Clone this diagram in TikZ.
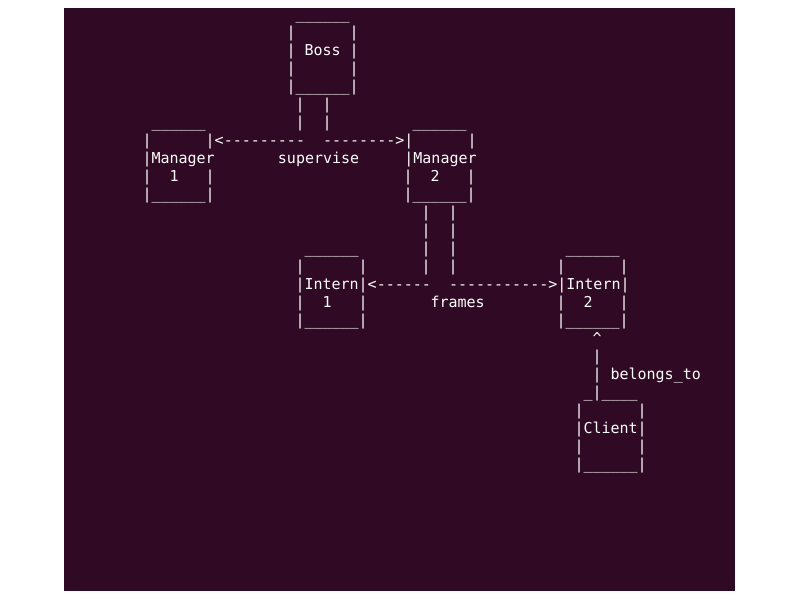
\documentclass[tikz,border=0pt]{standalone}
\usepackage{fontspec}
\setmonofont{DejaVu Sans Mono}
\usetikzlibrary{positioning}
\definecolor{termbg}{HTML}{300A24}
\definecolor{termfg}{HTML}{FFFFFF}

\begin{document}
\begin{tikzpicture}[x=9pt, y=-18pt,
  txt/.style={anchor=base west, inner sep=0pt, outer sep=0pt, xshift=-4.5pt, yshift=-6pt,
    text=termfg, font=\ttfamily\fontsize{15}{18}\selectfont}]
  % terminal window
  \useasboundingbox (-147/9,-13/18) rectangle (653/9,587/18);
  \fill[termbg] (-83/9,-5/18) rectangle (588/9,578/18);
  % boss
  \node[txt] (bossTop) at (17,0) {\_\_\_\_\_\_};
  \node[txt] (bossA) at (16,1) {|~~~~~~|};
  \node[txt] (boss) at (16,2) {|~Boss~|};
  \node[txt] (bossB) at (16,3) {|~~~~~~|};
  \node[txt] (bossBot) at (16,4) {|\_\_\_\_\_\_|};
  \node[txt] (bossLinkA) at (17,5) {|~~|};
  \node[txt] (bossLinkB) at (17,6) {|~~|};
  % managers
  \node[txt] (mgrOneTop) at (1,6) {\_\_\_\_\_\_};
  \node[txt] (mgrTwoTop) at (30,6) {\_\_\_\_\_\_};
  \node[txt] (mgrRowA) at (0,7) {|~~~~~~|<---------~~-------->|~~~~~~|};
  \node[txt] (mgrRowB) at (0,8) {|Manager~~~~~~~supervise~~~~~|Manager};
  \node[txt] (mgrOneNum) at (0,9) {|~~1~~~|};
  \node[txt] (mgrTwoNum) at (29,9) {|~~2~~~|};
  \node[txt] (mgrOneBot) at (0,10) {|\_\_\_\_\_\_|};
  \node[txt] (mgrTwoBot) at (29,10) {|\_\_\_\_\_\_|};
  \node[txt] (mgrLinkA) at (31,11) {|~~|};
  \node[txt] (mgrLinkB) at (31,12) {|~~|};
  \node[txt] (mgrLinkC) at (31,13) {|~~|};
  \node[txt] (mgrLinkD) at (31,14) {|~~|};
  % interns
  \node[txt] (intOneTop) at (18,13) {\_\_\_\_\_\_};
  \node[txt] (intTwoTop) at (47,13) {\_\_\_\_\_\_};
  \node[txt] (intOneA) at (17,14) {|~~~~~~|};
  \node[txt] (intTwoA) at (46,14) {|~~~~~~|};
  \node[txt] (intRowB) at (17,15) {|Intern|<------~~----------->|Intern|};
  \node[txt] (intOneNum) at (17,16) {|~~1~~~|};
  \node[txt] (frames) at (32,16) {frames};
  \node[txt] (intTwoNum) at (46,16) {|~~2~~~|};
  \node[txt] (intOneBot) at (17,17) {|\_\_\_\_\_\_|};
  \node[txt] (intTwoBot) at (46,17) {|\_\_\_\_\_\_|};
  % client
  \node[txt] (cliTip) at (50,18) {\textasciicircum};
  \node[txt] (cliLinkA) at (50,19) {|};
  \node[txt] (cliLinkB) at (50,20) {|~belongs\_to};
  \node[txt] (cliTop) at (49,21) {\_|\_\_\_\_};
  \node[txt] (cliA) at (48,22) {|~~~~~~|};
  \node[txt] (client) at (48,23) {|Client|};
  \node[txt] (cliB) at (48,24) {|~~~~~~|};
  \node[txt] (cliBot) at (48,25) {|\_\_\_\_\_\_|};
\end{tikzpicture}
\end{document}
